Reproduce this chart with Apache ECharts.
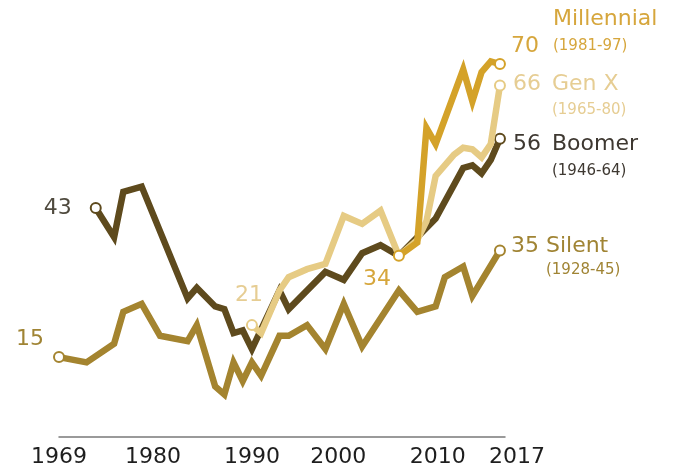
<!DOCTYPE html>
<html>
<head>
<meta charset="utf-8">
<script src="https://cdn.jsdelivr.net/npm/echarts@6/dist/echarts.min.js"></script>
<style>
  html, body { margin: 0; padding: 0; background: #ffffff; }
  #chart { width: 678px; height: 472px; }
</style>
</head>
<body>
<div id="chart"></div>
<script>
// ---- Data ----
const tickYears = [1969, 1980, 1990, 2000, 2010, 2017];

const silentYears  = [1969, 1972, 1975, 1976, 1978, 1980, 1983, 1984, 1986, 1987, 1988, 1989, 1990, 1991, 1993, 1994, 1996, 1998, 2000, 2002, 2006, 2008, 2010, 2011, 2013, 2014, 2017];
const silentValues = [15,   14,   17.5, 23.5, 25,   19,   18,   21,   9.5,  8,    14,   10.5, 14,   11.5, 19,   19,   21,   16.5, 25,   17,   27.5, 23.5, 24.5, 30,   32,   26.5, 35];

const boomerYears  = [1973, 1975, 1976, 1978, 1983, 1984, 1986, 1987, 1988, 1989, 1990, 1993, 1994, 1998, 2000, 2002, 2004, 2006, 2008, 2010, 2013, 2014, 2015, 2016, 2017];
const boomerValues = [43,   37.5, 46,   47,   26,   28,   24.5, 24,   19.5, 20,   16.5, 27.5, 24,   31,   29.5, 34.5, 36,   34,   37.5, 41,   50.5, 51,   49.5, 52,   56];

const genxYears  = [1990, 1991, 1993, 1994, 1996, 1998, 2000, 2002, 2004, 2006, 2008, 2009, 2010, 2012, 2013, 2014, 2015, 2016, 2017];
const genxValues = [21,   19.5, 27.5, 30,   31.5, 32.5, 41.5, 40,   42.5, 34,   37,   40.5, 49,   53,   54.3, 54,   52.5, 55,   66];

const millYears  = [2006, 2008, 2009, 2010, 2013, 2014, 2015, 2016, 2017];
const millValues = [34,   36.5, 58,   55,   69,   63,   68.5, 70.5, 70];

const seriesNames = ['Silent', 'Boomer', 'Gen X', 'Millennial'];
const seriesSpans = ['(1928-45)', '(1946-64)', '(1965-80)', '(1981-97)'];

// ---- Styles ----
const FONT = 'DejaVu Sans';
const C = {
  silent: '#A4842F', silentText: '#A08434',
  boomer: '#5E4A1D', boomerText: '#3E3831', boomerStart: '#4F4A3E',
  genx: '#E6CB84', genxText: '#E6CD93',
  mill: '#D4A229', millText: '#D6A63C'
};

function endRich(numColor, nameColor, valW, lh) {
  return {
    sp:  { width: valW, lineHeight: lh, verticalAlign: 'middle' },
    val: { width: valW, fontSize: 22, color: numColor, fontFamily: FONT, lineHeight: lh, verticalAlign: 'middle' },
    nm:  { fontSize: 22, color: nameColor, fontFamily: FONT, lineHeight: lh, verticalAlign: 'middle' },
    yr:  { fontSize: 15, color: nameColor, fontFamily: FONT, lineHeight: lh, verticalAlign: 'middle' }
  };
}

function makeSeries(years, values, color, z, startLabel, endLabel) {
  const last = years.length - 1;
  const data = years.map((yr, i) => {
    const item = { value: [yr, values[i]] };
    if (i === 0 || i === last) {
      item.symbol = 'circle';
      item.label = Object.assign({ show: true }, i === 0 ? startLabel : endLabel);
    } else {
      item.symbol = 'none';
    }
    return item;
  });
  return {
    type: 'line',
    data: data,
    z: z,
    showSymbol: true,
    symbolSize: 10,
    itemStyle: { color: '#ffffff', borderColor: color, borderWidth: 2 },
    lineStyle: { color: color, width: 6.5, join: 'miter', miterLimit: 6 },
    emphasis: { disabled: true },
    animation: false,
    silent: true
  };
}

const fmtVal = v => String(Math.round(v));

const series = [
  makeSeries(silentYears, silentValues, C.silent, 2,
    { position: 'left', offset: [-4, -18], formatter: fmtVal(silentValues[0]), color: C.silentText, fontSize: 22, fontFamily: FONT },
    { position: 'right', offset: [0, 8],
      formatter: '{val|' + fmtVal(silentValues[silentValues.length - 1]) + '}{nm|' + seriesNames[0] + '}\n{sp| }{yr|' + seriesSpans[0] + '}',
      rich: endRich(C.silentText, C.silentText, 35, 24) }),
  makeSeries(boomerYears, boomerValues, C.boomer, 3,
    { position: 'left', offset: [-13, 0], formatter: fmtVal(boomerValues[0]), color: C.boomerStart, fontSize: 22, fontFamily: FONT },
    { position: 'right', offset: [2, 19],
      formatter: '{val|' + fmtVal(boomerValues[boomerValues.length - 1]) + '}{nm|' + seriesNames[1] + '}\n{sp| }{yr|' + seriesSpans[1] + '}',
      rich: endRich(C.boomerText, C.boomerText, 39, 27) }),
  makeSeries(genxYears, genxValues, C.genx, 4,
    { position: 'top', offset: [-3, -8], formatter: fmtVal(genxValues[0]), color: C.genxText, fontSize: 22, fontFamily: FONT },
    { position: 'right', offset: [2, 12],
      formatter: '{val|' + fmtVal(genxValues[genxValues.length - 1]) + '}{nm|' + seriesNames[2] + '}\n{sp| }{yr|' + seriesSpans[2] + '}',
      rich: endRich(C.genxText, C.genxText, 39, 26) }),
  makeSeries(millYears, millValues, C.mill, 5,
    { position: 'bottom', offset: [-22, 1], formatter: fmtVal(millValues[0]), color: C.millText, fontSize: 22, fontFamily: FONT },
    { position: 'right', offset: [0, -31],
      formatter: '{sp| }{nm|' + seriesNames[3] + '}\n{val|' + fmtVal(millValues[millValues.length - 1]) + '}{yr|' + seriesSpans[3] + '}',
      rich: endRich(C.millText, C.millText, 42, 27) })
];

// small per-label nudges for the hand-placed year labels (style only)
const tickRich = {
  n:  { fontSize: 22, color: '#1e1e1e', fontFamily: FONT },
  l7: { fontSize: 22, color: '#1e1e1e', fontFamily: FONT, padding: [0, 14, 0, 0] },
  l6: { fontSize: 22, color: '#1e1e1e', fontFamily: FONT, padding: [0, 11, 0, 0] },
  r2: { fontSize: 22, color: '#1e1e1e', fontFamily: FONT, padding: [0, 0, 0, 4] },
  r17:{ fontSize: 22, color: '#1e1e1e', fontFamily: FONT, padding: [0, 0, 0, 34] }
};
const tickStyleKey = { 1980: 'l7', 2000: 'l6', 2010: 'r2', 2017: 'r17' };

const chart = echarts.init(document.getElementById('chart'), null, { renderer: 'canvas' });
chart.setOption({
  backgroundColor: '#ffffff',
  animation: false,
  grid: { left: 59, right: 173, top: 10.8, bottom: 35, containLabel: false },
  xAxis: {
    type: 'value',
    min: 1969,
    max: 2017.55,
    splitLine: { show: false },
    axisTick: { show: false },
    axisLine: { show: true, lineStyle: { color: '#7a7a7a', width: 1.5 } },
    axisLabel: {
      show: true,
      customValues: tickYears,
      margin: 9,
      formatter: v => '{' + (tickStyleKey[v] || 'n') + '|' + v + '}',
      rich: tickRich
    }
  },
  yAxis: {
    type: 'value',
    min: 0,
    max: 80,
    show: false
  },
  series: series
});
</script>
</body>
</html>
